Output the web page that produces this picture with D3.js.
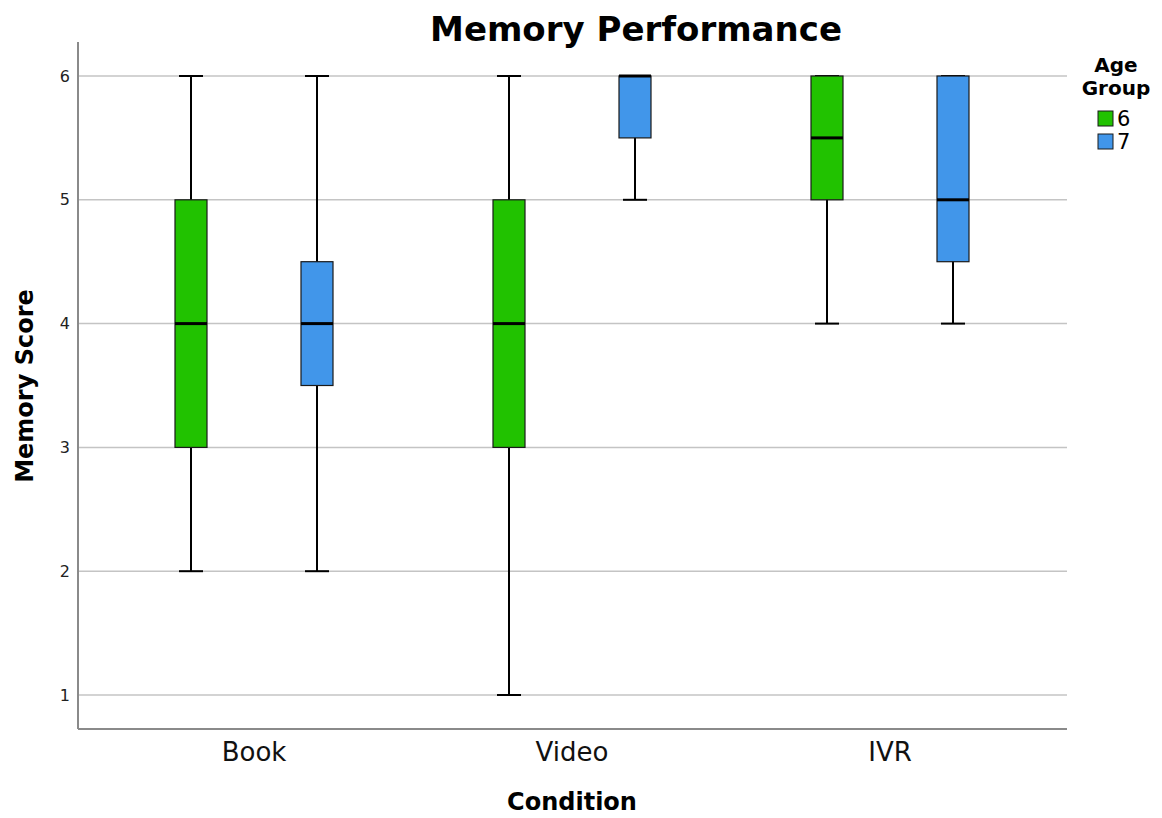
<!DOCTYPE html>
<html>
<head>
<meta charset="utf-8">
<script src="https://cdn.jsdelivr.net/npm/d3@7"></script>
<style>
  body { margin: 0; background: #fff; }
  text { font-family: "DejaVu Sans", "Open Sans", sans-serif; }
</style>
</head>
<body>
<svg id="chart" width="1162" height="818"></svg>
<script>
const conditions = ["Book", "Video", "IVR"];
const ageGroups = ["6", "7"];
// five-number summaries per condition, per age group: [min, q1, median, q3, max]
const age6Stats = [[2, 3, 4, 5, 6], [1, 3, 4, 5, 6], [4, 5, 5.5, 6, 6]];
const age7Stats = [[2, 3.5, 4, 4.5, 6], [5, 5.5, 6, 6, 6], [4, 4.5, 5, 6, 6]];
const yTicks = [1, 2, 3, 4, 5, 6];

const COLORS = ["#21c200", "#4196ea"];

const svg = d3.select("#chart");
const plotLeft = 78, plotRight = 1067, plotTop = 42, plotBottom = 729;

const x = d3.scaleBand().domain(conditions).range([95, 1049]);
const y = d3.scaleLinear().domain([1, 6]).range([695, 76]);
const offset = d3.scalePoint().domain(ageGroups).range([-63, 63]);
const boxW = 32, capW = 24;

// gridlines
svg.append("g")
  .selectAll("line")
  .data(yTicks)
  .join("line")
  .attr("x1", plotLeft).attr("x2", plotRight)
  .attr("y1", d => y(d)).attr("y2", d => y(d))
  .attr("stroke", "#c4c4c4").attr("stroke-width", 1.5);

// axes
const yAxis = svg.append("g")
  .attr("transform", `translate(${plotLeft},0)`)
  .call(d3.axisLeft(y).tickValues(yTicks).tickSize(0).tickPadding(8).tickFormat(d3.format("d")));
yAxis.select(".domain").remove();
yAxis.selectAll("text").attr("font-size", 16).attr("fill", "#222");

svg.append("line")
  .attr("x1", plotLeft).attr("x2", plotLeft).attr("y1", plotTop).attr("y2", plotBottom)
  .attr("stroke", "#8a8a8a").attr("stroke-width", 2);
svg.append("line")
  .attr("x1", plotLeft).attr("x2", plotRight).attr("y1", plotBottom).attr("y2", plotBottom)
  .attr("stroke", "#8a8a8a").attr("stroke-width", 2);

const xAxis = svg.append("g")
  .attr("transform", `translate(0,${plotBottom})`)
  .call(d3.axisBottom(x).tickSize(0).tickPadding(14));
xAxis.select(".domain").remove();
xAxis.selectAll("text").attr("font-size", 26).attr("fill", "#111");

// boxes
const series = [age6Stats, age7Stats];
const boxes = [];
series.forEach((stats, g) => {
  stats.forEach((s, i) => {
    boxes.push({cond: conditions[i], group: ageGroups[g], gi: g, s});
  });
});

const bg = svg.append("g")
  .selectAll("g")
  .data(boxes)
  .join("g")
  .attr("transform", d => `translate(${x(d.cond) + x.bandwidth() / 2 + offset(d.group)},0)`);

// whiskers
bg.append("line")
  .attr("x1", 0).attr("x2", 0)
  .attr("y1", d => y(d.s[0])).attr("y2", d => y(d.s[4]))
  .attr("stroke", "#000").attr("stroke-width", 2);
bg.selectAll(".cap")
  .data(d => [d.s[0], d.s[4]])
  .join("line")
  .attr("class", "cap")
  .attr("x1", -capW / 2).attr("x2", capW / 2)
  .attr("y1", d => y(d)).attr("y2", d => y(d))
  .attr("stroke", "#000").attr("stroke-width", 2);

bg.append("rect")
  .attr("x", -boxW / 2)
  .attr("width", boxW)
  .attr("y", d => y(d.s[3]))
  .attr("height", d => y(d.s[1]) - y(d.s[3]))
  .attr("fill", d => COLORS[d.gi])
  .attr("stroke", "#1a1a1a").attr("stroke-width", 1.2);

bg.append("line")
  .attr("x1", -boxW / 2).attr("x2", boxW / 2)
  .attr("y1", d => y(d.s[2])).attr("y2", d => y(d.s[2]))
  .attr("stroke", "#000").attr("stroke-width", 3);

// title & axis labels
svg.append("text")
  .attr("x", 636).attr("y", 41)
  .attr("text-anchor", "middle")
  .attr("font-size", 34).attr("font-weight", "bold")
  .text("Memory Performance");

svg.append("text")
  .attr("transform", "translate(33,386) rotate(-90)")
  .attr("text-anchor", "middle")
  .attr("font-size", 24).attr("font-weight", "bold")
  .text("Memory Score");

svg.append("text")
  .attr("x", 572).attr("y", 810)
  .attr("text-anchor", "middle")
  .attr("font-size", 24).attr("font-weight", "bold")
  .text("Condition");

// legend
const legend = svg.append("g");
legend.append("text")
  .attr("x", 1116).attr("y", 72)
  .attr("text-anchor", "middle")
  .attr("font-size", 20).attr("font-weight", "bold")
  .text("Age");
legend.append("text")
  .attr("x", 1116).attr("y", 95)
  .attr("text-anchor", "middle")
  .attr("font-size", 20).attr("font-weight", "bold")
  .text("Group");

const items = legend.selectAll(".item")
  .data(ageGroups)
  .join("g")
  .attr("class", "item")
  .attr("transform", (d, i) => `translate(1098,${111 + i * 23})`);
items.append("rect")
  .attr("width", 15).attr("height", 15)
  .attr("fill", (d, i) => COLORS[i])
  .attr("stroke", "#1a1a1a").attr("stroke-width", 1);
items.append("text")
  .attr("x", 19).attr("y", 15)
  .attr("font-size", 21)
  .text(d => d);
</script>
</body>
</html>
